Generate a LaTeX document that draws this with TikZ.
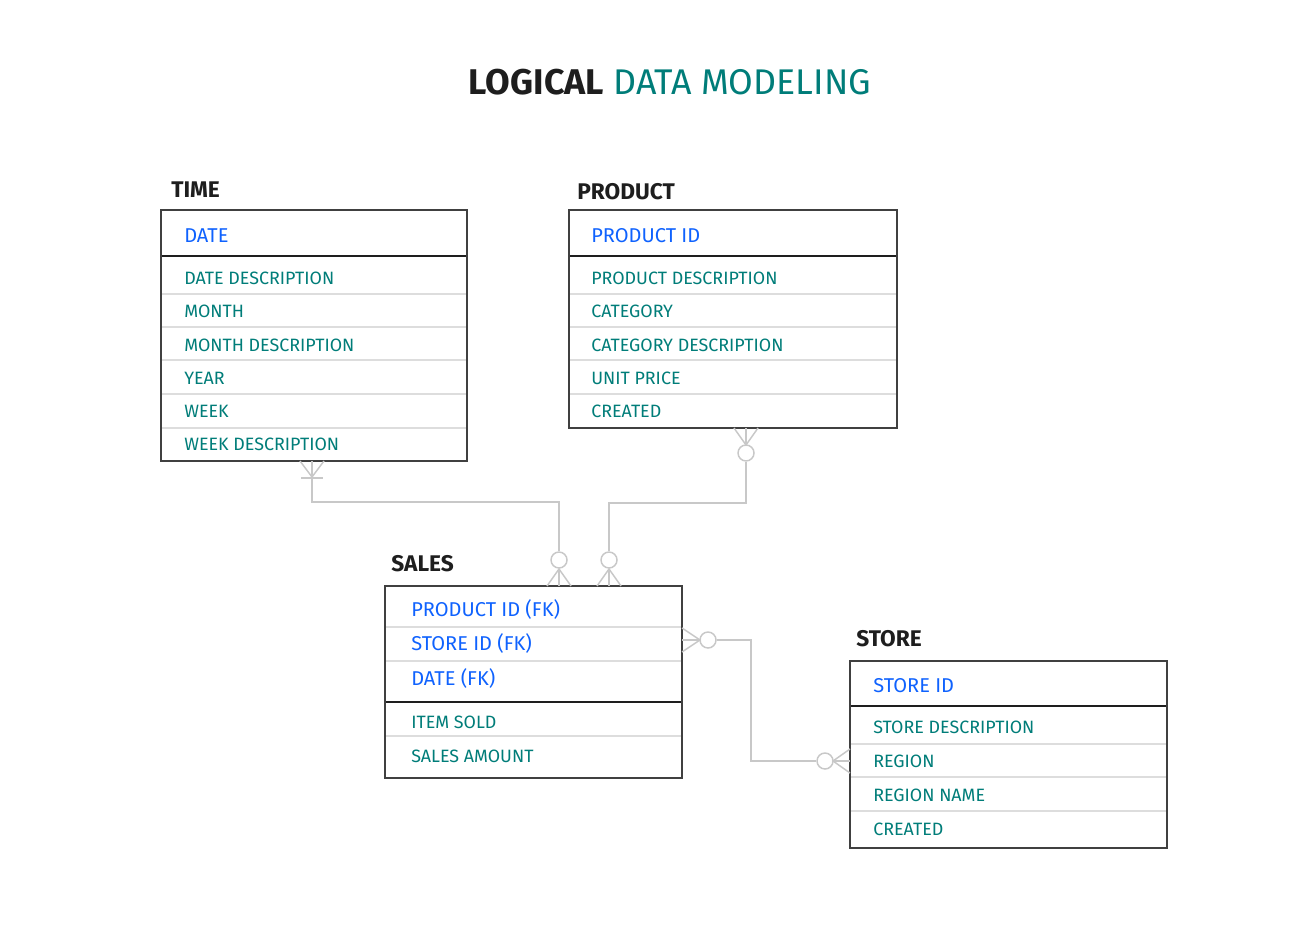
\documentclass[tikz,border=0pt]{standalone}
\usepackage{fontspec}
\setmainfont{Fira Sans}
\usetikzlibrary{fit}
\definecolor{ibmblue}{HTML}{0F62FE}
\definecolor{ibmteal}{HTML}{007D79}
\definecolor{dark}{HTML}{1E1E1E}
\definecolor{conncol}{HTML}{C8C8C8}
\definecolor{rowline}{HTML}{DDDDDD}
\tikzset{
  tbl/.style={draw=dark!85, line width=1pt, inner sep=0pt},
  keytxt/.style={anchor=base west, inner sep=0pt, text=ibmblue, font=\fontsize{15}{16}\selectfont},
  fldtxt/.style={anchor=base west, inner sep=0pt, text=ibmteal, font=\fontsize{13.4}{14}\selectfont},
  ttl/.style={anchor=base west, inner sep=0pt, text=dark, font=\bfseries\fontsize{17}{18}\selectfont},
  sep/.style={draw=dark, line width=2.2pt},
  rowsep/.style={draw=rowline, line width=0.9pt},
  conn/.style={draw=conncol, line width=1.1pt},
  ring/.style={circle, draw=conncol, line width=1.1pt, fill=white, minimum size=12pt, inner sep=0pt}
}
\begin{document}
\begin{tikzpicture}[x=0.75pt,y=-0.75pt]
\useasboundingbox[fill=white] (0,0) rectangle (1309,930);

% title
\node[anchor=base, inner sep=0pt, font=\fontsize{26.8}{28}\selectfont] (title) at (670,95)
  {\textcolor{dark}{\bfseries LOGICAL} \textcolor{ibmteal}{DATA MODELING}};

% ---------- TIME ----------
\node[ttl] (timettl) at (171,198) {TIME};
\foreach \y in {294,327,360,394,428} \draw[rowsep] (162,\y) -- (466,\y);
\draw[sep] (161,256) -- (467,256);
\node[tbl, fit={(161,210)(467,461)}] (time) {};
\node[keytxt] (t0) at (184,243) {DATE};
\node[fldtxt] (t1) at (184,285) {DATE DESCRIPTION};
\node[fldtxt] (t2) at (184,318) {MONTH};
\node[fldtxt] (t3) at (184,351) {MONTH DESCRIPTION};
\node[fldtxt] (t4) at (184,384) {YEAR};
\node[fldtxt] (t5) at (184,417) {WEEK};
\node[fldtxt] (t6) at (184,450) {WEEK DESCRIPTION};

% ---------- PRODUCT ----------
\node[ttl] (prodttl) at (577,200) {PRODUCT};
\foreach \y in {294,327,360,394} \draw[rowsep] (570,\y) -- (896,\y);
\draw[sep] (569,256) -- (897,256);
\node[tbl, fit={(569,210)(897,428)}] (product) {};
\node[keytxt] (p0) at (591,243) {PRODUCT ID};
\node[fldtxt] (p1) at (591,285) {PRODUCT DESCRIPTION};
\node[fldtxt] (p2) at (591,318) {CATEGORY};
\node[fldtxt] (p3) at (591,351) {CATEGORY DESCRIPTION};
\node[fldtxt] (p4) at (591,384) {UNIT PRICE};
\node[fldtxt] (p5) at (591,417) {CREATED};

% ---------- SALES ----------
\node[ttl] (salesttl) at (391,571) {SALES};
\foreach \y in {627,661,736} \draw[rowsep] (386,\y) -- (681,\y);
\draw[sep] (385,702) -- (682,702);
\node[tbl, fit={(385,586)(682,778)}] (sales) {};
\node[keytxt] (s0) at (411,616) {PRODUCT ID (FK)};
\node[keytxt] (s1) at (411,650) {STORE ID (FK)};
\node[keytxt] (s2) at (411,685) {DATE (FK)};
\node[fldtxt] (s3) at (411,728) {ITEM SOLD};
\node[fldtxt] (s4) at (411,762) {SALES AMOUNT};

% ---------- STORE ----------
\node[ttl] (storettl) at (856,646) {STORE};
\foreach \y in {744,777,811} \draw[rowsep] (851,\y) -- (1166,\y);
\draw[sep] (850,706) -- (1167,706);
\node[tbl, fit={(850,661)(1167,848)}] (store) {};
\node[keytxt] (r0) at (873,692) {STORE ID};
\node[fldtxt] (r1) at (873,733) {STORE DESCRIPTION};
\node[fldtxt] (r2) at (873,767) {REGION};
\node[fldtxt] (r3) at (873,801) {REGION NAME};
\node[fldtxt] (r4) at (873,835) {CREATED};

% ---------- connector end points ----------
\coordinate (ta) at (312,461);
\coordinate (sa) at (559,586);
\coordinate (pa) at (746,428);
\coordinate (sb) at (609,586);
\coordinate (sc) at (682,640);
\coordinate (ra) at (850,761);

% rings
\node[ring] (c1) at (559,560) {};
\node[ring] (c2) at (746,453) {};
\node[ring] (c3) at (609,560) {};
\node[ring] (c4) at (708,640) {};
\node[ring] (c5) at (825,761) {};

% TIME -- SALES
\draw[conn] (ta) -- (312,502) -- (559,502) -- (c1.north);
\draw[conn] (300,461) -- (312,477) -- (324,461);
\draw[conn] (301,478) -- (323,478);
\draw[conn] (c1.south) -- (sa);
\draw[conn] (547,586) -- (559,569) -- (571,586);

% PRODUCT -- SALES
\draw[conn] (pa) -- (c2.north);
\draw[conn] (734,428) -- (746,445) -- (758,428);
\draw[conn] (c2.south) -- (746,503) -- (609,503) -- (c3.north);
\draw[conn] (c3.south) -- (sb);
\draw[conn] (597,586) -- (609,569) -- (621,586);

% SALES -- STORE
\draw[conn] (sc) -- (c4.west);
\draw[conn] (682,628) -- (700,640) -- (682,652);
\draw[conn] (c4.east) -- (751,640) -- (751,761) -- (c5.west);
\draw[conn] (c5.east) -- (ra);
\draw[conn] (850,749) -- (833,761) -- (850,773);
\end{tikzpicture}
\end{document}
